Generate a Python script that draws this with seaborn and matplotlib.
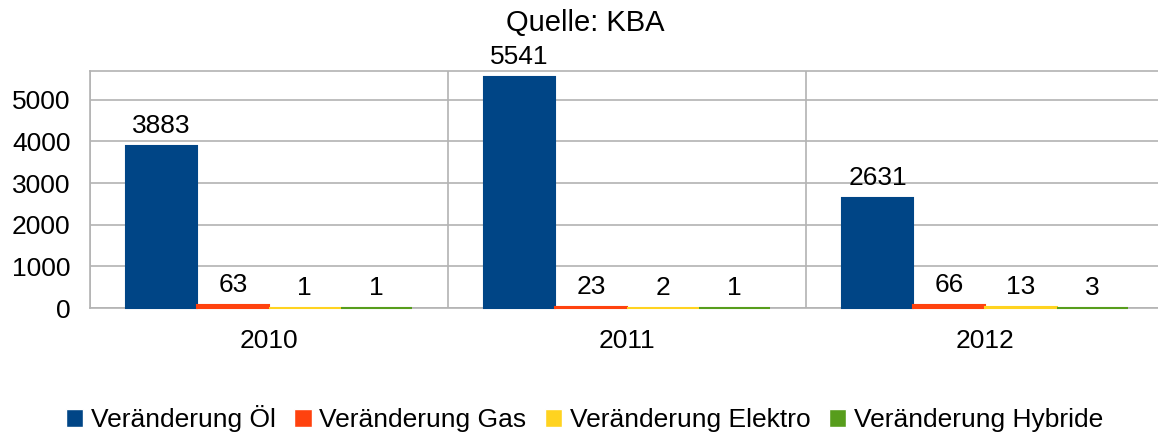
import pandas as pd
import numpy as np
import matplotlib
matplotlib.use("Agg")
import matplotlib.pyplot as plt
import seaborn as sns

# data
years = ["2010", "2011", "2012"]
series = ["Veränderung Öl", "Veränderung Gas", "Veränderung Elektro", "Veränderung Hybride"]
oel = [3883, 5541, 2631]
gas = [63, 23, 66]
elektro = [1, 2, 13]
hybride = [1, 1, 3]
colors = ["#004586", "#ff420e", "#ffd320", "#579d1c"]

rows = []
for name, vals in zip(series, [oel, gas, elektro, hybride]):
    for y, v in zip(years, vals):
        rows.append({"Jahr": y, "Serie": name, "Wert": v})
df = pd.DataFrame(rows)

sns.set_style("white")
plt.rcParams['font.family'] = ['Liberation Sans', 'DejaVu Sans']
plt.rcParams['text.color'] = 'black'
plt.rcParams['xtick.labelcolor'] = 'black'
plt.rcParams['ytick.labelcolor'] = 'black'

fs = 19

fig = plt.figure(figsize=(11.58, 4.37), dpi=100)
ax = fig.add_axes([90 / 1158, 129 / 437, 1074 / 1158, 237 / 437])

sns.barplot(
    data=df,
    x='Jahr',
    y='Wert',
    hue='Serie',
    palette=colors,
    width=0.8,
    saturation=1,
    gap=0,
    ax=ax,
    zorder=3
)

# thin edge so the tiny bars show up as a coloured line like in the original
for c in ax.containers:
    for p in c:
        p.set_edgecolor(p.get_facecolor())
        p.set_linewidth(1.5)
        p.set_clip_on(False)
    ax.bar_label(c, padding=6, fontsize=fs, color='black')

grid_col = "#b3b3b3"
ax.set_xlim(-0.5, 2.5)
ax.set_ylim(0, 5690)
ax.set_yticks([0, 1000, 2000, 3000, 4000, 5000])
ax.yaxis.grid(True, color=grid_col, linewidth=1.2, zorder=0)
ax.set_xticks([-0.5, 0.5, 1.5, 2.5], minor=True)
ax.xaxis.grid(True, which='minor', color=grid_col, linewidth=1.2, zorder=0)
ax.tick_params(axis='x', which='major', length=0, labelsize=fs, pad=15)
ax.tick_params(axis='x', which='minor', length=10, color=grid_col, width=1.2)
ax.tick_params(axis='y', length=12, color=grid_col, width=1.2, labelsize=fs, pad=2)
ax.set_xlabel("")
ax.set_ylabel("")

for s in ['left', 'top', 'bottom']:
    ax.spines[s].set_color(grid_col)
    ax.spines[s].set_linewidth(1.2)
    ax.spines[s].set_zorder(1)
ax.spines['right'].set_visible(False)

fig.suptitle("Quelle: KBA", fontsize=21, x=585 / 1158, y=1 - 23 / 437, va='center', color='black')

handles, labels = ax.get_legend_handles_labels()
ax.get_legend().remove()
fig.legend(
    handles, labels,
    loc='center',
    bbox_to_anchor=(0.505, 18 / 437),
    ncol=4,
    frameon=False,
    fontsize=fs,
    handlelength=0.65,
    handleheight=0.65,
    handletextpad=0.3,
    columnspacing=0.7
)

fig.savefig("out.png", dpi=100)
